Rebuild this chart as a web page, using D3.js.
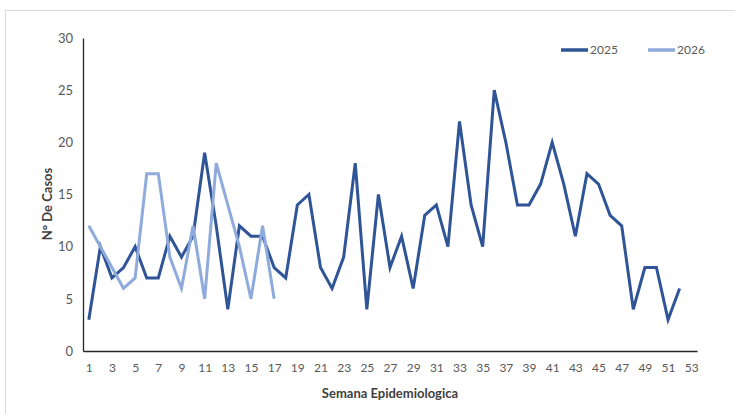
<!DOCTYPE html>
<html>
<head>
<meta charset="utf-8">
<script src="https://cdn.jsdelivr.net/npm/d3@7"></script>
<style>
  body { margin: 0; background: #fff; }
  svg { display: block; }
  text { font-family: "Liberation Sans Narrow", "Arial Narrow", "Lato", sans-serif; }
</style>
</head>
<body>
<svg id="chart" width="735" height="414"></svg>
<script>
const weeks = d3.range(1, 54);
const tickLabels = weeks.filter(w => w % 2 === 1);
const cases2025 = [3,10,7,8,10,7,7,11,9,11,19,12,4,12,11,11,8,7,14,15,8,6,9,18,4,15,8,11,6,13,14,10,22,14,10,25,20,14,14,16,20,16,11,17,16,13,12,4,8,8,3,6];
const cases2026 = [12,10,8,6,7,17,17,9,6,12,5,18,14,10,5,12,5];
const seriesNames = ["2025", "2026"];
const yTicks = [0,5,10,15,20,25,30];

const colors = {"2025": "#2F5597", "2026": "#8FAADC"};
const svg = d3.select("#chart");

// outer frame
svg.append("rect").attr("x", 5.5).attr("y", 10.5).attr("width", 740).attr("height", 420)
  .attr("fill", "none").attr("stroke", "#d9d9d9").attr("stroke-width", 1);

const mLeft = 83, mRight = 697, mTop = 38, mBottom = 351;
const x = d3.scalePoint().domain(weeks).range([mLeft, mRight]).padding(0.5);
const y = d3.scaleLinear().domain([0, 30]).range([mBottom, mTop]);

// y axis
const yAxis = svg.append("g").attr("transform", `translate(${mLeft},0)`)
  .call(d3.axisLeft(y).tickValues(yTicks).tickSize(0).tickPadding(10));
yAxis.select(".domain").attr("stroke", "#262626").attr("stroke-width", 1.3);
yAxis.selectAll("text").attr("fill", "#595959").attr("font-size", 13);

// x axis
const xAxis = svg.append("g").attr("transform", `translate(0,${mBottom})`)
  .call(d3.axisBottom(x).tickValues(tickLabels).tickSize(0).tickPadding(12));
xAxis.select(".domain").attr("stroke", "#262626").attr("stroke-width", 1.3);
xAxis.selectAll("text").attr("fill", "#595959").attr("font-size", 12);

// axis titles
svg.append("text").attr("x", (mLeft + mRight) / 2).attr("y", 398).attr("text-anchor", "middle")
  .attr("font-size", 13).attr("font-weight", "bold").attr("fill", "#404040").text("Semana Epidemiologica");
svg.append("text").attr("transform", "translate(52,204) rotate(-90)").attr("text-anchor", "middle")
  .attr("font-size", 13).attr("font-weight", "bold").attr("fill", "#404040").text("N° De Casos");

// lines
const line = d3.line().x((d, i) => x(weeks[i])).y(d => y(d));
const data = {"2025": cases2025, "2026": cases2026};
["2025", "2026"].forEach(k => {
  svg.append("path").datum(data[k]).attr("d", line).attr("fill", "none")
    .attr("stroke", colors[k]).attr("stroke-width", 3).attr("stroke-linejoin", "miter");
});

// legend
const legendPos = [{x: 561, name: seriesNames[0]}, {x: 648, name: seriesNames[1]}];
legendPos.forEach(p => {
  svg.append("line").attr("x1", p.x).attr("x2", p.x + 27).attr("y1", 50).attr("y2", 50)
    .attr("stroke", colors[p.name]).attr("stroke-width", 3.5);
  svg.append("text").attr("x", p.x + 29).attr("y", 54).attr("font-size", 12)
    .attr("fill", "#595959").text(p.name);
});
</script>
</body>
</html>
